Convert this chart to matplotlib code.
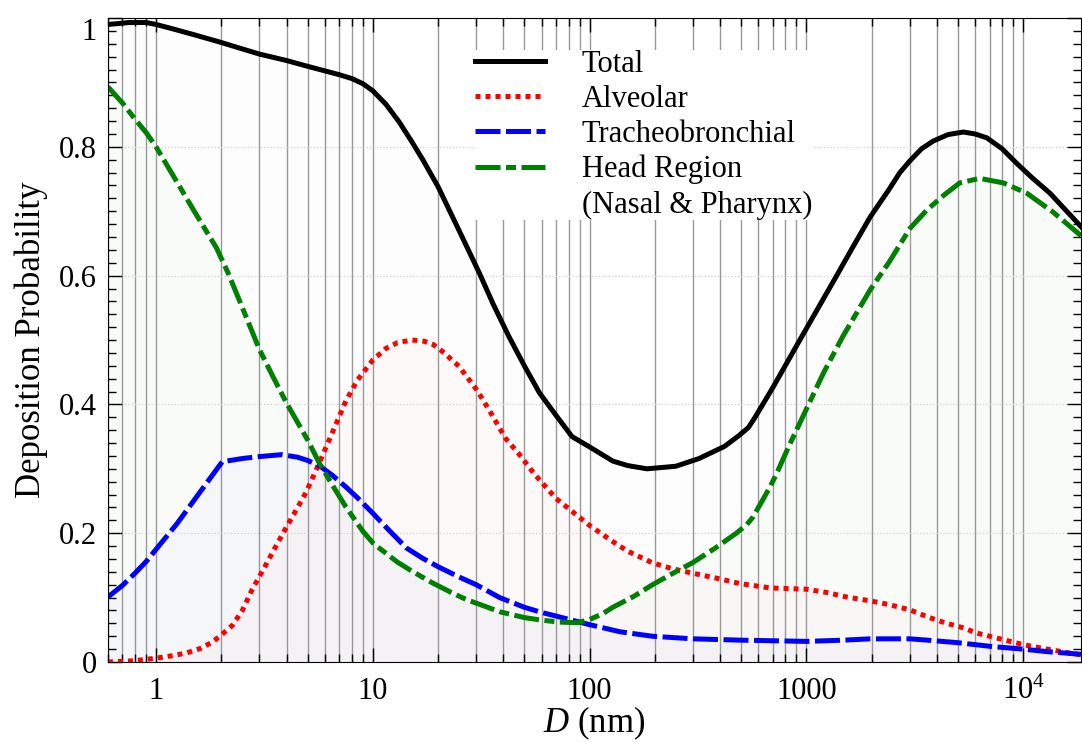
import matplotlib
matplotlib.use("Agg")
import matplotlib.pyplot as plt
from matplotlib.lines import Line2D
from matplotlib.ticker import LogLocator, NullFormatter, MultipleLocator

plt.rcParams["font.family"] = "serif"
plt.rcParams["font.serif"] = ["Liberation Serif", "DejaVu Serif"]
plt.rcParams["mathtext.fontset"] = "custom"
plt.rcParams["mathtext.rm"] = "Liberation Serif"
plt.rcParams["mathtext.it"] = "Liberation Serif:italic"
plt.rcParams["font.size"] = 22

# particle diameter (nm) and deposition probability
d_total = [0.6, 0.75, 0.9, 1.0, 1.2, 1.5, 2, 2.5, 3, 4, 5, 6, 7, 8, 9, 10, 11.5,
           13.2, 15, 17, 20, 25, 31, 36, 42.5, 50, 58.7, 70, 83, 100, 128, 150, 184,
           250, 320, 420, 490, 540, 580, 700, 863, 1070, 1380, 1630, 1970, 2420,
           2700, 3000, 3400, 3850, 4500, 5300, 6000, 6800, 8000, 9300, 11000, 13300,
           18500]
p_total = [0.990, 0.993, 0.993, 0.990, 0.983, 0.974, 0.962, 0.952, 0.944, 0.934,
           0.925, 0.918, 0.912, 0.906, 0.898, 0.887, 0.866, 0.839, 0.81, 0.78, 0.738,
           0.67, 0.604, 0.555, 0.505, 0.46, 0.418, 0.383, 0.35, 0.334, 0.312, 0.305,
           0.300, 0.304, 0.316, 0.335, 0.352, 0.364, 0.38, 0.426, 0.48, 0.535, 0.600,
           0.643, 0.691, 0.735, 0.760, 0.778, 0.797, 0.809, 0.819, 0.823, 0.82, 0.814,
           0.797, 0.775, 0.752, 0.728, 0.676]

d_alv = [0.6, 0.8, 1.0, 1.2, 1.38, 1.6, 1.82, 2.0, 2.25, 2.5, 2.77, 3.2, 3.6, 4.0,
         4.5, 4.93, 5.66, 6.5, 7.5, 8.5, 10, 11.5, 13, 15.2, 17.3, 19, 21, 25, 30.4,
         35, 41, 47.5, 55.6, 70, 83, 100, 128, 150, 195, 240, 298, 400, 490, 680,
         1000, 1240, 1530, 1970, 2420, 3000, 3700, 4350, 5300, 6100, 7200, 10000,
         12400, 18500]
p_alv = [0.0, 0.002, 0.006, 0.010, 0.014, 0.021, 0.031, 0.042, 0.057, 0.08, 0.112,
         0.15, 0.182, 0.21, 0.24, 0.264, 0.309, 0.356, 0.405, 0.438, 0.469, 0.487,
         0.496, 0.500, 0.498, 0.493, 0.482, 0.459, 0.421, 0.387, 0.347, 0.322, 0.292,
         0.254, 0.234, 0.212, 0.187, 0.172, 0.154, 0.145, 0.138, 0.129, 0.122, 0.115,
         0.113, 0.108, 0.101, 0.095, 0.089, 0.081, 0.069, 0.061, 0.053, 0.045, 0.039,
         0.027, 0.021, 0.011]

d_tb = [0.6, 0.7, 0.8, 0.9, 1.0, 1.25, 1.58, 2.02, 2.5, 3.0, 3.8, 4.5, 5.0, 5.66,
        6.5, 7.5, 8.5, 10, 12, 14.3, 17, 20, 25, 30, 38.5, 50, 60, 72.6, 90, 100, 138,
        195, 300, 490, 1000, 1500, 1970, 3000, 3600, 5000, 7200, 10000, 13000, 18500]
p_tb = [0.101, 0.119, 0.138, 0.156, 0.175, 0.215, 0.262, 0.311, 0.316, 0.319, 0.322,
        0.318, 0.313, 0.305, 0.29, 0.272, 0.255, 0.231, 0.203, 0.177, 0.161, 0.148,
        0.132, 0.12, 0.1, 0.085, 0.077, 0.07, 0.062, 0.058, 0.047, 0.04, 0.036, 0.034,
        0.032, 0.034, 0.036, 0.036, 0.034, 0.03, 0.024, 0.02, 0.016, 0.012]

d_head = [0.6, 0.7, 0.8, 0.9, 1.0, 1.25, 1.5, 1.9, 2.15, 2.42, 3, 3.5, 4, 5, 5.66,
          6.5, 7.5, 9, 10, 10.7, 13, 15, 18.8, 23, 27, 32, 38.5, 50, 60, 72.6, 88,
          100, 115, 128, 160, 195, 240, 298, 380, 475, 530, 567, 620, 680, 730, 830,
          960, 1200, 1470, 1970, 2420, 3000, 3600, 4350, 5100, 6300, 8100, 10400,
          13700, 18500]
p_head = [0.893, 0.868, 0.843, 0.822, 0.80, 0.745, 0.70, 0.643, 0.604, 0.562, 0.485,
          0.44, 0.402, 0.345, 0.309, 0.275, 0.241, 0.203, 0.185, 0.177, 0.155, 0.142,
          0.123, 0.108, 0.097, 0.088, 0.078, 0.069, 0.065, 0.062, 0.061, 0.066, 0.075,
          0.085, 0.102, 0.12, 0.137, 0.154, 0.177, 0.2, 0.213, 0.225, 0.248, 0.272,
          0.293, 0.335, 0.38, 0.449, 0.505, 0.578, 0.622, 0.673, 0.702, 0.726, 0.744,
          0.751, 0.744, 0.728, 0.699, 0.662]

x_ticks = [1, 10, 100, 1000, 10000]
x_tick_labels = ["1", "10", "100", "1000", r"$10^4$"]
y_ticks = [0, 0.2, 0.4, 0.6, 0.8, 1.0]
y_tick_labels = ["0", "0.2", "0.4", "0.6", "0.8", "1"]

fig = plt.figure(figsize=(10.82, 7.42), dpi=100)
ax = fig.add_axes([0.0998, 0.1078, 0.8993, 0.8679])

lw = 3.6
# faint shading under each curve
ax.fill_between(d_total, p_total, 0, color="black", alpha=0.008, lw=0)
ax.fill_between(d_alv, p_alv, 0, color="red", alpha=0.014, lw=0)
ax.fill_between(d_tb, p_tb, 0, color="blue", alpha=0.018, lw=0)
ax.fill_between(d_head, p_head, 0, color="green", alpha=0.016, lw=0)

l1, = ax.plot(d_total, p_total, color="black", lw=lw)
l2, = ax.plot(d_alv, p_alv, color="red", lw=lw, ls=(0, (1, 1)))
l3, = ax.plot(d_tb, p_tb, color="blue", lw=lw, ls=(0, (5, 1.1)))
l4, = ax.plot(d_head, p_head, color="green", lw=lw, ls=(0, (5, 1.1, 2, 1.1)))

ax.set_xscale("log")
ax.set_xlim(0.6, 18500)
ax.set_ylim(0, 1.0)

ax.set_xticks(x_ticks, x_tick_labels)
ax.xaxis.set_minor_locator(LogLocator(base=10, subs=range(2, 10), numticks=50))
ax.xaxis.set_minor_formatter(NullFormatter())
ax.set_yticks(y_ticks, y_tick_labels)
ax.yaxis.set_minor_locator(MultipleLocator(0.02))
ax.get_yticklabels()[-1].set_verticalalignment("top")

ax.tick_params(which="both", direction="in", top=True, right=True, width=1)
ax.tick_params(which="major", length=10)
ax.tick_params(which="minor", length=6)
ax.tick_params(axis="x", which="major", pad=11)
ax.tick_params(axis="y", which="major", pad=8)

ax.grid(which="both", axis="x", color="0.6", lw=1.0)
ax.grid(which="major", axis="y", color="0.82", ls=":", lw=0.9)

ax.set_xlabel(r"$D$ (nm)", fontsize=25, labelpad=-1)
ax.set_ylabel("Deposition Probability", fontsize=25, labelpad=8)

handles = [l1, l2, l3, l4, Line2D([], [], color="none")]
labels = ["Total", "Alveolar", "Tracheobronchial", "Head Region", "(Nasal & Pharynx)"]
ax.legend(handles, labels, loc="upper left", bbox_to_anchor=(0.377, 0.951),
          frameon=True, framealpha=1, facecolor="white", edgecolor="none",
          fancybox=False, borderpad=0, borderaxespad=0, handlelength=2.3,
          handletextpad=1.2, labelspacing=0.2, fontsize=22)

fig.savefig("out.png", dpi=100)
